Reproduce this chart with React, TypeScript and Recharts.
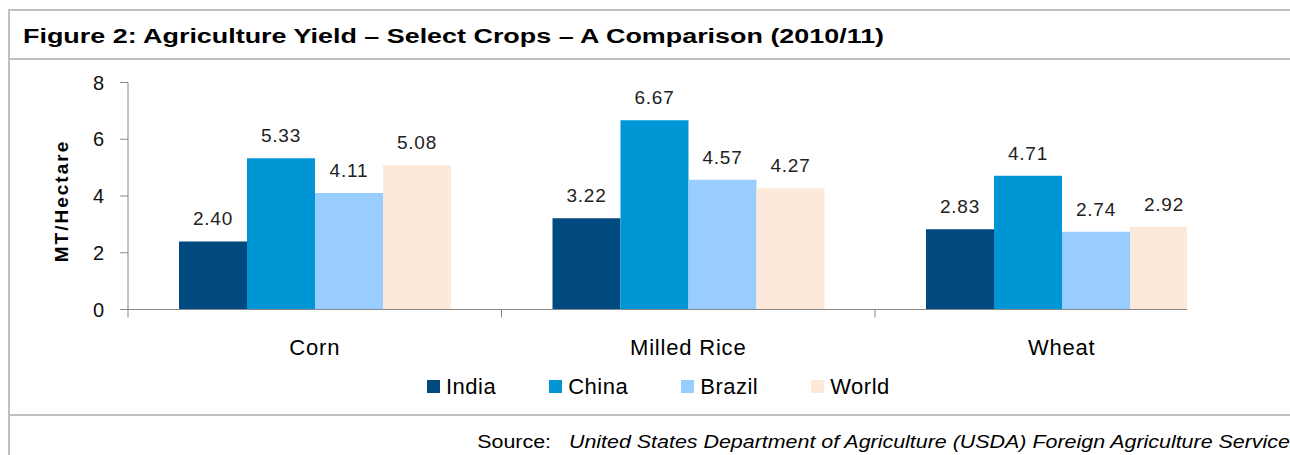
import React from "react";
import { BarChart, Bar, XAxis, YAxis, Legend, LabelList } from "recharts";

const crops = ["Corn", "Milled Rice", "Wheat"];
const india = [2.4, 3.22, 2.83];
const china = [5.33, 6.67, 4.71];
const brazil = [4.11, 4.57, 2.74];
const world = [5.08, 4.27, 2.92];
const yTicks = [0, 2, 4, 6, 8];

const seriesNames = ["India", "China", "Brazil", "World"];
const COLORS = ["#004A80", "#0096D6", "#99CCFF", "#FDE9D9"];

const data = crops.map((crop, i) => ({
  crop,
  India: india[i],
  China: china[i],
  Brazil: brazil[i],
  World: world[i],
}));

const FONT = '"Liberation Sans", Arial, sans-serif';
const PLOT_W = 1120.5;
const BAND = PLOT_W / crops.length;
const AXIS_GRAY = "#888888";
const FRAME = "#C0C0C0";

// category label in the middle, tick marks on the band edges
function CropTick(props: any) {
  const { x, y, payload, index } = props;
  const left = x - BAND / 2;
  const right = x + BAND / 2;
  return (
    <g>
      <line x1={left} x2={left} y1={y} y2={y + 8} stroke={AXIS_GRAY} />
      {index === crops.length - 1 && (
        <line x1={right} x2={right} y1={y} y2={y + 8} stroke={AXIS_GRAY} />
      )}
      <text
        x={x}
        y={y + 45.5}
        textAnchor="middle"
        fill="#000"
        fontSize={22}
        letterSpacing={0.8}
        fontFamily={FONT}
      >
        {payload.value}
      </text>
    </g>
  );
}

function renderYTitle(props: any) {
  const vb = props.viewBox || { x: 0, y: 82.5, height: 227 };
  const cx = vb.x + 61;
  const cy = vb.y + vb.height / 2 + 5;
  return (
    <text
      x={cx}
      y={cy}
      transform={`rotate(-90, ${cx}, ${cy})`}
      textAnchor="middle"
      dominantBaseline="central"
      fontSize={19}
      letterSpacing={2}
      fontWeight="bold"
      fontFamily={FONT}
      fill="#000"
    >
      MT/Hectare
    </text>
  );
}

function renderLegend() {
  return (
    <div
      style={{
        height: 30,
        display: "flex",
        alignItems: "center",
        fontFamily: FONT,
        fontSize: 22,
        letterSpacing: 0.5,
        color: "#000",
      }}
    >
      {seriesNames.map((name, i) => (
        <div
          key={name}
          style={{
            display: "flex",
            alignItems: "center",
            marginRight: i === seriesNames.length - 1 ? 0 : 53,
          }}
        >
          <span
            style={{
              width: 13,
              height: 13,
              background: COLORS[i],
              marginRight: 6,
              display: "inline-block",
            }}
          />
          <span>{name}</span>
        </div>
      ))}
    </div>
  );
}

export default function App() {
  return (
    <div
      style={{
        position: "absolute",
        left: 0,
        top: 0,
        width: 1290,
        height: 455,
        background: "#fff",
        fontFamily: FONT,
        overflow: "hidden",
      }}
    >
      {/* frame */}
      <div style={{ position: "absolute", left: 8, top: 9, width: 1282, height: 2, background: FRAME }} />
      <div style={{ position: "absolute", left: 8, top: 58, width: 1282, height: 2, background: FRAME }} />
      <div style={{ position: "absolute", left: 8, top: 414, width: 1282, height: 2, background: FRAME }} />
      <div style={{ position: "absolute", left: 8, top: 9, width: 2, height: 446, background: FRAME }} />

      <div
        style={{
          position: "absolute",
          left: 23,
          top: 26,
          fontSize: 20,
          lineHeight: "20px",
          fontWeight: "bold",
          whiteSpace: "nowrap",
          color: "#000",
          transform: "scaleX(1.345)",
          transformOrigin: "0 0",
        }}
      >
        Figure 2: Agriculture Yield – Select Crops – A Comparison (2010/11)
      </div>

      <div
        style={{
          position: "absolute",
          left: 0,
          top: 0,
          width: 1187,
          height: 410,
          overflow: "hidden",
        }}
      >
        <BarChart
          width={1187}
          height={410}
          data={data}
          margin={{ top: 82.5, right: -61.5, left: 0, bottom: 8.5 }}
          barGap={0}
          barSize={68}
        >
          <XAxis
            dataKey="crop"
            height={62}
            interval={0}
            axisLine={{ stroke: AXIS_GRAY }}
            tickLine={false}
            tickSize={0}
            tickMargin={0}
            tick={<CropTick />}
          />
          <YAxis
            width={128}
            domain={[0, 8]}
            ticks={yTicks}
            interval={0}
            axisLine={{ stroke: AXIS_GRAY }}
            tickLine={{ stroke: AXIS_GRAY }}
            tickSize={8}
            tickMargin={16}
            tick={{ fill: "#111", fontSize: 20, fontFamily: FONT }}
            label={renderYTitle}
          />
          <Legend
            verticalAlign="bottom"
            align="left"
            wrapperStyle={{ left: 427, width: "auto" }}
            content={renderLegend}
          />
          {seriesNames.map((name, i) => (
            <Bar
              key={name}
              dataKey={name}
              name={name}
              fill={COLORS[i]}
              isAnimationActive={false}
            >
              <LabelList
                dataKey={name}
                position="top"
                offset={16}
                formatter={(v: any) => Number(v).toFixed(2)}
                fill="#222"
                fontSize={19}
                letterSpacing={0.8}
                fontFamily={FONT}
              />
            </Bar>
          ))}
        </BarChart>
      </div>

      <div
        style={{
          position: "absolute",
          right: 0,
          top: 433,
          fontSize: 18,
          lineHeight: "18px",
          whiteSpace: "nowrap",
          color: "#000",
          transform: "scaleX(1.19)",
          transformOrigin: "100% 0",
        }}
      >
        Source:
        <span style={{ fontStyle: "italic", marginLeft: 15 }}>
          United States Department of Agriculture (USDA) Foreign Agriculture Service
        </span>
      </div>
    </div>
  );
}
